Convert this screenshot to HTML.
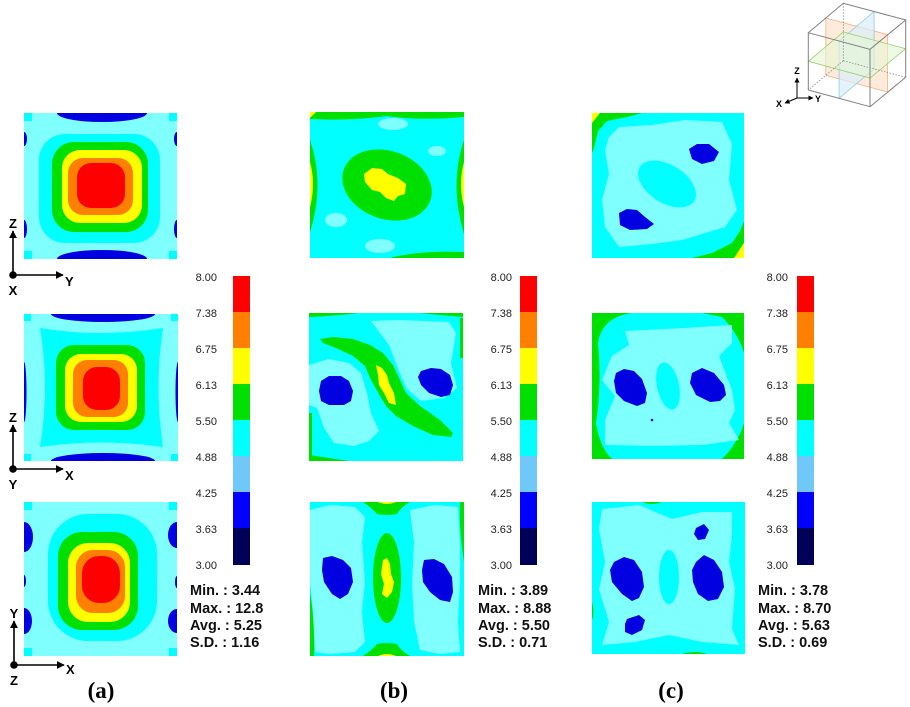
<!DOCTYPE html>
<html><head><meta charset="utf-8"><style>
html,body{margin:0;padding:0;background:#fff;}
svg{display:block;}
.t{font-family:"Liberation Sans",Arial,sans-serif;}
.lb{font-family:"Liberation Sans",Arial,sans-serif;font-size:11px;fill:#222;text-anchor:end;}
.st{font-family:"Liberation Sans",Arial,sans-serif;font-size:14.5px;font-weight:bold;fill:#111;}
.ax{font-family:"Liberation Sans",Arial,sans-serif;font-size:13px;font-weight:bold;fill:#000;}
.cap{font-family:"Liberation Serif","Times New Roman",serif;font-size:23px;font-weight:bold;fill:#000;text-anchor:middle;}
</style></head><body>
<svg width="910" height="707" viewBox="0 0 910 707" xmlns="http://www.w3.org/2000/svg">
<defs>
<clipPath id="c1"><rect x="0" y="0" width="153" height="146"/></clipPath>
<clipPath id="c2"><rect x="0" y="0" width="154" height="147"/></clipPath>
<clipPath id="c3"><rect x="0" y="0" width="153" height="154"/></clipPath>
<clipPath id="c4"><rect x="0" y="0" width="154" height="146"/></clipPath>
<clipPath id="c5"><rect x="0" y="0" width="154" height="148"/></clipPath>
<clipPath id="c6"><rect x="0" y="0" width="154" height="154"/></clipPath>
<clipPath id="c7"><rect x="0" y="0" width="152" height="145"/></clipPath>
<clipPath id="c8"><rect x="0" y="0" width="152" height="146"/></clipPath>
<clipPath id="c9"><rect x="0" y="0" width="153" height="152"/></clipPath>
<marker id="ar" viewBox="0 0 10 10" refX="9" refY="5" markerWidth="8" markerHeight="8" markerUnits="userSpaceOnUse" orient="auto"><path d="M0,0 L10,5 L0,10 Z" fill="#000"/></marker>
<marker id="ar2" viewBox="0 0 10 10" refX="9" refY="5" markerWidth="5" markerHeight="5" markerUnits="userSpaceOnUse" orient="auto"><path d="M0,0 L10,5 L0,10 Z" fill="#000"/></marker>
</defs>

<!-- ============ Column A ============ -->
<g transform="translate(24,113)" clip-path="url(#c1)">
<rect width="153" height="146" fill="#80ffff"/>
<rect x="0" y="0" width="8" height="8" fill="#00ffff"/><rect x="145" y="0" width="8" height="8" fill="#00ffff"/>
<rect x="0" y="138" width="8" height="8" fill="#00ffff"/><rect x="145" y="138" width="8" height="8" fill="#00ffff"/>
<rect x="15" y="21" width="121" height="109" rx="26" fill="#00ffff"/>
<ellipse cx="78" cy="0" rx="45" ry="9" fill="#0000e0"/>
<ellipse cx="78" cy="146" rx="45" ry="9" fill="#0000e0"/>
<ellipse cx="0" cy="26" rx="3" ry="7" fill="#0000e0"/><ellipse cx="0" cy="116" rx="3" ry="9" fill="#0000e0"/>
<ellipse cx="153" cy="26" rx="3" ry="7" fill="#0000e0"/><ellipse cx="153" cy="116" rx="3" ry="9" fill="#0000e0"/>
<rect x="28" y="29" width="96" height="90" rx="22" fill="#00e000"/>
<rect x="38" y="37" width="80" height="73" rx="18" fill="#ffff00"/>
<rect x="44" y="45" width="65" height="57" rx="15" fill="#ff8000"/>
<rect x="53" y="50" width="48" height="45" rx="14" fill="#ff0000"/>
</g>
<g transform="translate(24,314)" clip-path="url(#c2)">
<rect width="154" height="147" fill="#80ffff"/>
<rect x="0" y="0" width="7" height="7" fill="#00ffff"/><rect x="147" y="0" width="7" height="7" fill="#00ffff"/>
<rect x="0" y="140" width="7" height="7" fill="#00ffff"/><rect x="147" y="140" width="7" height="7" fill="#00ffff"/>
<path d="M16,14 Q77,24 139,14 Q130,73 139,133 Q77,124 16,133 Q26,73 16,14 Z" fill="#00ffff"/>
<ellipse cx="79" cy="0" rx="52" ry="8" fill="#0000e0"/>
<ellipse cx="79" cy="147" rx="52" ry="8" fill="#0000e0"/>
<ellipse cx="0" cy="78" rx="2.5" ry="30" fill="#0000e0"/><ellipse cx="154" cy="78" rx="2.5" ry="30" fill="#0000e0"/>
<rect x="32" y="31" width="89" height="85" rx="18" fill="#00e000"/>
<rect x="41" y="40" width="72" height="68" rx="16" fill="#ffff00"/>
<rect x="49" y="46" width="55" height="57" rx="14" fill="#ff8000"/>
<rect x="59" y="53" width="37" height="43" rx="14" fill="#ff0000"/>
</g>
<g transform="translate(24,502)" clip-path="url(#c3)">
<rect width="153" height="154" fill="#80ffff"/>
<rect x="0" y="0" width="8" height="8" fill="#00ffff"/><rect x="145" y="0" width="8" height="8" fill="#00ffff"/>
<rect x="0" y="146" width="8" height="8" fill="#00ffff"/><rect x="145" y="146" width="8" height="8" fill="#00ffff"/>
<rect x="24" y="12" width="109" height="127" rx="40" fill="#00ffff"/>
<ellipse cx="0" cy="35" rx="9" ry="15" fill="#0000e0"/><ellipse cx="0" cy="119" rx="8" ry="13" fill="#0000e0"/>
<ellipse cx="0" cy="79" rx="2" ry="6" fill="#0000e0"/>
<ellipse cx="153" cy="33" rx="9" ry="13" fill="#0000e0"/><ellipse cx="153" cy="119" rx="9" ry="12" fill="#0000e0"/>
<ellipse cx="153" cy="80" rx="2" ry="6" fill="#0000e0"/>
<rect x="34" y="30" width="80" height="98" rx="24" fill="#00e000"/>
<rect x="44" y="41" width="62" height="79" rx="20" fill="#ffff00"/>
<rect x="52" y="48" width="49" height="63" rx="17" fill="#ff8000"/>
<rect x="58" y="54" width="38" height="47" rx="17" fill="#ff0000"/>
</g>

<!-- ============ Column B ============ -->
<g transform="translate(310,112)" clip-path="url(#c4)">
<rect width="154" height="146" fill="#00ffff"/>
<path d="M0,0 H154 V5 Q110,9 77,4 Q40,9 0,7 Z" fill="#00e000"/>
<path d="M0,0 H6 L0,6 Z" fill="#ffff00"/>
<path d="M0,28 Q15,72 0,120 Z" fill="#00e000"/>
<path d="M0,50 Q6,72 0,95 Z" fill="#ffff00"/>
<path d="M154,28 Q139,72 154,122 Z" fill="#00e000"/>
<path d="M154,50 Q148,72 154,95 Z" fill="#ffff00"/>
<path d="M80,146 Q110,138 154,140 V146 Z" fill="#00e000"/>
<ellipse cx="83" cy="12" rx="15" ry="6" fill="#80ffff"/>
<ellipse cx="127" cy="39" rx="9" ry="5" fill="#80ffff"/>
<ellipse cx="26" cy="108" rx="11" ry="7" fill="#80ffff"/>
<ellipse cx="70" cy="134" rx="15" ry="7" fill="#80ffff"/>
<ellipse cx="77" cy="73" rx="46" ry="34" transform="rotate(20 77 73)" fill="#00e000"/>
<polygon points="54,62 62,56 72,57 78,62 88,66 96,72 95,82 88,84 84,89 76,86 70,80 62,78 55,70" fill="#ffff00"/>
</g>
<g transform="translate(309,313)" clip-path="url(#c5)">
<rect width="154" height="148" fill="#00ffff"/>
<polygon points="0,52 20,46 40,50 52,60 58,80 62,100 70,118 60,128 45,133 25,130 15,115 8,95 0,92" fill="#80ffff"/>
<polygon points="62,8 90,7 140,9 147,20 142,50 148,75 135,85 112,88 98,76 90,58 80,32" fill="#80ffff"/>
<polygon points="11,26 24,24 44,26 61,32 74,40 84,52 91,67 97,80 111,93 131,107 144,120 142,124 124,122 104,113 87,103 77,93 71,83 62,67 56,53 44,43 27,35 14,30" fill="#00e000"/>
<polygon points="67,52 73,55 78,62 80,70 85,80 87,92 80,90 75,80 70,72 69,62" fill="#ffff00"/>
<polygon points="12,68 20,63 32,63 40,68 44,78 42,88 35,92 20,92 12,88 10,78" fill="#0000e0"/>
<polygon points="112,58 122,55 132,56 141,62 144,72 141,82 132,84 120,80 112,72 109,64" fill="#0000e0"/>
<rect x="0" y="100" width="3" height="48" fill="#00e000"/>
<rect x="151" y="5" width="3" height="40" fill="#00e000"/>
<path d="M0,0 H50 Q25,3 0,4 Z" fill="#00e000"/>
<path d="M110,0 H154 V4 Q130,2 110,0 Z" fill="#00e000"/>
<path d="M0,148 V142 Q20,145 40,148 Z" fill="#00e000"/>
</g>
<g transform="translate(310,502)" clip-path="url(#c6)">
<rect width="154" height="154" fill="#00ffff"/>
<polygon points="0,8 20,3 45,5 55,15 52,40 55,80 52,110 55,140 45,150 20,152 5,150 3,110 0,80" fill="#80ffff"/>
<polygon points="100,8 125,3 148,5 150,40 150,80 148,120 150,150 130,152 110,148 104,120 102,80 104,40" fill="#80ffff"/>
<ellipse cx="77" cy="76" rx="14" ry="45" fill="#00e000"/>
<polygon points="73,58 77,56 80,62 81,72 84,80 82,90 77,96 72,92 74,82 71,72" fill="#ffff00"/>
<path d="M53,0 H100 Q90,6 87,12 Q77,14 67,12 Q62,6 53,0 Z" fill="#00e000"/>
<path d="M68,0 H86 Q77,4 68,0 Z" fill="#ffff00"/>
<path d="M53,154 H100 Q90,148 87,142 Q77,140 67,142 Q62,148 53,154 Z" fill="#00e000"/>
<path d="M68,154 H86 Q77,150 68,154 Z" fill="#ffff00"/>
<path d="M0,90 Q5,120 4,154 H0 Z" fill="#00e000"/>
<path d="M154,0 V60 Q149,30 150,0 Z" fill="#00e000"/>
<polygon points="13,56 22,54 33,58 41,66 43,80 38,92 30,97 22,92 14,80 12,68" fill="#0000e0"/>
<polygon points="114,58 124,57 134,62 142,75 143,90 140,100 130,98 120,90 113,80 112,68" fill="#0000e0"/>
</g>

<!-- ============ Column C ============ -->
<g transform="translate(592,113)" clip-path="url(#c7)">
<rect width="152" height="145" fill="#00ffff"/>
<polygon points="17,24 27,14 60,12 93,7 130,9 140,31 137,67 145,97 133,114 110,121 90,127 60,131 27,134 13,114 10,87 17,61 13,37" fill="#80ffff"/>
<ellipse cx="75" cy="71" rx="32" ry="19" transform="rotate(32 75 71)" fill="#00ffff"/>
<polygon points="97,36 105,31 117,31 127,39 122,48 110,51 100,46" fill="#0000e0"/>
<polygon points="27,100 35,96 45,97 53,104 62,111 55,116 38,117 28,112" fill="#0000e0"/>
<polygon points="0,0 50,0 35,4 15,8 6,18 2,35 0,40" fill="#00e000"/>
<polygon points="0,0 8,0 0,10" fill="#ffff00"/>
<polygon points="152,145 152,108 148,118 140,130 120,140 100,145" fill="#00e000"/>
<polygon points="152,145 152,130 142,145" fill="#ffff00"/>
</g>
<g transform="translate(592,313)" clip-path="url(#c8)">
<rect width="152" height="146" fill="#00ffff"/>
<path d="M0,0 H40 Q10,4 6,30 Q10,70 4,110 Q8,135 20,146 H0 Z" fill="#00e000"/>
<path d="M110,0 H152 V40 Q146,20 130,4 Z" fill="#00e000"/>
<path d="M152,110 Q146,130 130,146 H152 Z" fill="#00e000"/>
<polygon points="33,18 93,15 140,12 140,30 127,43 140,77 143,97 137,110 147,127 110,132 60,133 13,132 13,107 23,83 10,67 20,43 37,32" fill="#80ffff"/>
<polygon points="24,60 32,56 42,58 50,66 55,80 53,90 45,93 32,88 24,80 22,68" fill="#0000e0"/>
<polygon points="100,60 110,55 122,60 132,72 134,82 128,88 118,89 104,82 98,70" fill="#0000e0"/>
<ellipse cx="76" cy="73" rx="11" ry="24" transform="rotate(-12 76 73)" fill="#00ffff"/>
<circle cx="60" cy="107" r="1.3" fill="#0000e0"/>
</g>
<g transform="translate(592,502)" clip-path="url(#c9)">
<rect width="153" height="152" fill="#00ffff"/>
<polygon points="10,7 47,3 80,17 110,10 140,10 140,33 137,60 143,87 140,127 147,143 110,140 77,133 43,140 10,143 17,120 7,87 13,60 7,27" fill="#80ffff"/>
<polygon points="22,60 32,55 42,58 50,70 52,85 47,96 40,99 30,92 20,80 18,68" fill="#0000e0"/>
<polygon points="104,60 112,53 122,58 130,70 132,85 126,97 116,99 106,92 101,80 100,68" fill="#0000e0"/>
<polygon points="104,26 112,22 117,28 113,37 106,38 102,32" fill="#0000e0"/>
<polygon points="35,117 47,113 53,118 50,128 40,133 33,130 33,122" fill="#0000e0"/>
<ellipse cx="77" cy="75" rx="10" ry="27" fill="#00ffff"/>
<path d="M50,0 H70 Q60,4 50,0 Z" fill="#00e000"/>
<path d="M0,100 Q3,110 0,118 Z" fill="#00e000"/>
<path d="M90,152 Q105,148 115,152 Z" fill="#00e000"/>
</g>

<!-- ============ Colorbars ============ -->
<g>
<rect x="233" y="276" width="17" height="36.2" fill="#ff0000"/>
<rect x="233" y="312" width="17" height="36.2" fill="#ff8000"/>
<rect x="233" y="348" width="17" height="36.2" fill="#ffff00"/>
<rect x="233" y="384" width="17" height="36.2" fill="#00e000"/>
<rect x="233" y="420" width="17" height="36.2" fill="#00ffff"/>
<rect x="233" y="456" width="17" height="36.2" fill="#70c8f8"/>
<rect x="233" y="492" width="17" height="36.2" fill="#0000ff"/>
<rect x="233" y="528" width="17" height="37" fill="#000058"/>
</g>
<g>
<rect x="520" y="276" width="17" height="36.2" fill="#ff0000"/>
<rect x="520" y="312" width="17" height="36.2" fill="#ff8000"/>
<rect x="520" y="348" width="17" height="36.2" fill="#ffff00"/>
<rect x="520" y="384" width="17" height="36.2" fill="#00e000"/>
<rect x="520" y="420" width="17" height="36.2" fill="#00ffff"/>
<rect x="520" y="456" width="17" height="36.2" fill="#70c8f8"/>
<rect x="520" y="492" width="17" height="36.2" fill="#0000ff"/>
<rect x="520" y="528" width="17" height="37" fill="#000058"/>
</g>
<g>
<rect x="797" y="276" width="17" height="36.2" fill="#ff0000"/>
<rect x="797" y="312" width="17" height="36.2" fill="#ff8000"/>
<rect x="797" y="348" width="17" height="36.2" fill="#ffff00"/>
<rect x="797" y="384" width="17" height="36.2" fill="#00e000"/>
<rect x="797" y="420" width="17" height="36.2" fill="#00ffff"/>
<rect x="797" y="456" width="17" height="36.2" fill="#70c8f8"/>
<rect x="797" y="492" width="17" height="36.2" fill="#0000ff"/>
<rect x="797" y="528" width="17" height="37" fill="#000058"/>
</g>

<g class="lb">
<text x="217" y="281">8.00</text><text x="217" y="317">7.38</text><text x="217" y="353">6.75</text>
<text x="217" y="389">6.13</text><text x="217" y="425">5.50</text><text x="217" y="461">4.88</text>
<text x="217" y="497">4.25</text><text x="217" y="533">3.63</text><text x="217" y="569">3.00</text>
</g>
<g class="lb">
<text x="512" y="281">8.00</text><text x="512" y="317">7.38</text><text x="512" y="353">6.75</text>
<text x="512" y="389">6.13</text><text x="512" y="425">5.50</text><text x="512" y="461">4.88</text>
<text x="512" y="497">4.25</text><text x="512" y="533">3.63</text><text x="512" y="569">3.00</text>
</g>
<g class="lb">
<text x="788" y="281">8.00</text><text x="788" y="317">7.38</text><text x="788" y="353">6.75</text>
<text x="788" y="389">6.13</text><text x="788" y="425">5.50</text><text x="788" y="461">4.88</text>
<text x="788" y="497">4.25</text><text x="788" y="533">3.63</text><text x="788" y="569">3.00</text>
</g>

<g class="st">
<text x="190" y="595">Min. : 3.44</text><text x="190" y="613">Max. : 12.8</text>
<text x="190" y="630">Avg. : 5.25</text><text x="190" y="647">S.D. : 1.16</text>
</g>
<g class="st">
<text x="478" y="595">Min. : 3.89</text><text x="478" y="613">Max. : 8.88</text>
<text x="478" y="630">Avg. : 5.50</text><text x="478" y="647">S.D. : 0.71</text>
</g>
<g class="st">
<text x="758" y="595">Min. : 3.78</text><text x="758" y="613">Max. : 8.70</text>
<text x="758" y="630">Avg. : 5.63</text><text x="758" y="647">S.D. : 0.69</text>
</g>

<!-- ============ Axis indicators ============ -->
<g stroke="#000" stroke-width="1.6" fill="none">
<line x1="13" y1="275" x2="13" y2="231" marker-end="url(#ar)"/>
<line x1="13" y1="275" x2="63" y2="275" marker-end="url(#ar)"/>
<line x1="13" y1="469" x2="13" y2="425" marker-end="url(#ar)"/>
<line x1="13" y1="469" x2="63" y2="469" marker-end="url(#ar)"/>
<line x1="14" y1="665" x2="14" y2="621" marker-end="url(#ar)"/>
<line x1="14" y1="665" x2="64" y2="665" marker-end="url(#ar)"/>
</g>
<circle cx="13" cy="275" r="3.8" fill="#000"/>
<circle cx="13" cy="469" r="3.8" fill="#000"/>
<circle cx="14" cy="665" r="3.8" fill="#000"/>
<g class="ax">
<text x="13" y="228" text-anchor="middle">Z</text>
<text x="65" y="286">Y</text>
<text x="13" y="295" text-anchor="middle">X</text>
<text x="13" y="422" text-anchor="middle">Z</text>
<text x="65" y="480">X</text>
<text x="13" y="489" text-anchor="middle">Y</text>
<text x="14" y="618" text-anchor="middle">Y</text>
<text x="66" y="674">X</text>
<text x="14" y="685" text-anchor="middle">Z</text>
</g>

<text class="cap" x="101" y="698">(a)</text>
<text class="cap" x="394" y="698">(b)</text>
<text class="cap" x="671" y="698">(c)</text>

<!-- ============ Cube icon ============ -->
<g>
<polygon points="825.8,18 887.5,34.6 887.5,92 825.8,75.3" fill="#fde3cc" fill-opacity="0.7" stroke="#f5b080" stroke-width="0.8"/>
<polygon points="839.1,41 874.1,11.6 874.1,69 839.1,98.3" fill="#d8eefa" fill-opacity="0.7" stroke="#90c8ea" stroke-width="0.8"/>
<polygon points="808.3,61.3 843.3,32 905.7,48.7 870,78" fill="#e4f6d4" fill-opacity="0.6" stroke="#98d070" stroke-width="0.8"/>
<g stroke="#808080" stroke-width="1" fill="none">
<polygon points="808.3,32.7 843.3,3.3 905.7,20 870,49.3"/>
<line x1="808.3" y1="32.7" x2="808.3" y2="90"/>
<line x1="870" y1="49.3" x2="870" y2="106.7"/>
<line x1="905.7" y1="20" x2="905.7" y2="77.3"/>
<line x1="808.3" y1="90" x2="870" y2="106.7"/>
<line x1="870" y1="106.7" x2="905.7" y2="77.3"/>
</g>
<g stroke="#888" stroke-width="0.8" stroke-dasharray="1.5,1.5" fill="none">
<line x1="843.3" y1="3.3" x2="843.3" y2="60.7"/>
<line x1="843.3" y1="60.7" x2="808.3" y2="90"/>
<line x1="843.3" y1="60.7" x2="905.7" y2="77.3"/>
</g>
<g stroke="#000" stroke-width="1" fill="none">
<line x1="797" y1="98" x2="797" y2="78" marker-end="url(#ar2)"/>
<line x1="797" y1="98" x2="813" y2="98" marker-end="url(#ar2)"/>
<line x1="797" y1="98" x2="785" y2="103" marker-end="url(#ar2)"/>
</g>
<g class="t" font-size="9" font-weight="bold" fill="#000">
<text x="797" y="74" text-anchor="middle">Z</text>
<text x="815" y="102">Y</text>
<text x="776" y="107">X</text>
</g>
</g>
</svg>
</body></html>
